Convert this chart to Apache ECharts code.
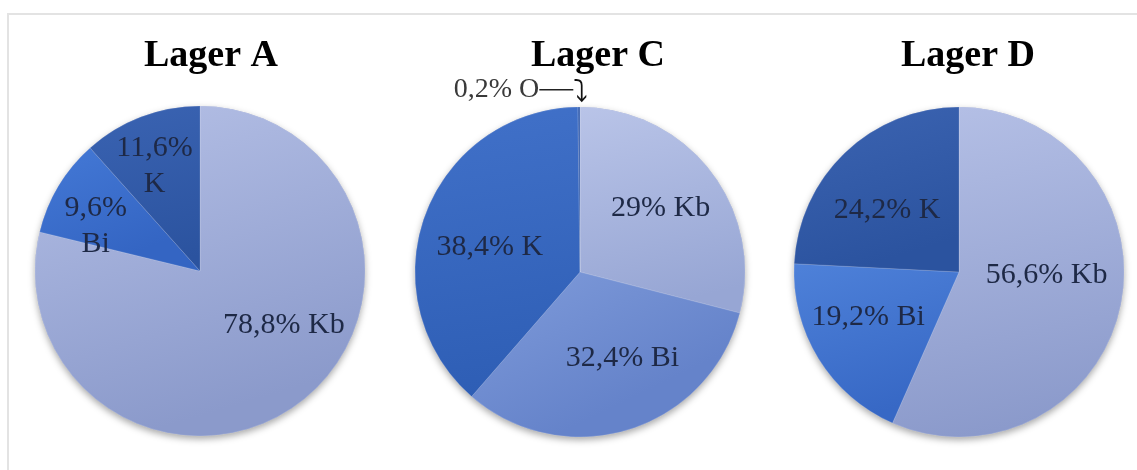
<!DOCTYPE html>
<html>
<head>
<meta charset="utf-8">
<script src="https://cdn.jsdelivr.net/npm/echarts@6/dist/echarts.min.js"></script>
<style>
  html, body { margin: 0; padding: 0; background: #ffffff; overflow: hidden; }
  #frame { position: absolute; left: 7px; top: 13px; width: 1200px; height: 500px;
           border-top: 2px solid #e3e3e3; border-left: 2px solid #e3e3e3; }
  #chart { position: absolute; left: 0; top: 0; width: 1137px; height: 470px; }
</style>
</head>
<body>
<div id="frame"></div>
<div id="chart"></div>
<script>
// ---- data ----
const titles = ['Lager A', 'Lager C', 'Lager D'];
const categoriesA = ['Kb', 'Bi', 'K'];
const valuesA = [78.8, 9.6, 11.6];
const categoriesC = ['Kb', 'Bi', 'K', 'O'];
const valuesC = [29, 32.4, 38.4, 0.2];
const categoriesD = ['Kb', 'Bi', 'K'];
const valuesD = [56.6, 19.2, 24.2];

// ---- layout / style ----
const centers = [[200, 271], [580, 272], [959, 272]];
const titleX = [206, 593, 963];
const radius = 165;
const labelShift = [
  [[31, -13], [-31, -1], [-15, -25]],
  [[13, -11], [17, 4], [-10, 5], [0, 0]],
  [[4, -14], [-18, 0], [-13, 0]]
];
const colors = [
  [['#b5c0e6', '#8b9acb'], ['#4479d6', '#3465c3'], ['#3a63b2', '#2b539f']],
  [['#b9c4e8', '#97a6d4'], ['#7f9bda', '#6583ca'], ['#4171c9', '#2e5eb5'], ['#3a63b2', '#2b539f']],
  [['#b5c0e6', '#8b9acb'], ['#4e81d9', '#3768c5'], ['#3c64b2', '#2b539f']]
];
const serif = "'Liberation Serif', 'DejaVu Serif', serif";

function grad(c) {
  return new echarts.graphic.LinearGradient(0, 0, 0.3, 1, [
    { offset: 0, color: c[0] }, { offset: 1, color: c[1] }
  ]);
}
function fmt(p) {
  const v = String(p.value).replace('.', ',');
  if (p.value < 1) return '{t|' + v + '% ' + p.name + '}{l| }{a|⤵}';
  return p.value < 15 ? v + '%\n' + p.name : v + '% ' + p.name;
}

const chart = echarts.init(document.getElementById('chart'), null, { renderer: 'canvas' });
const sets = [[categoriesA, valuesA], [categoriesC, valuesC], [categoriesD, valuesD]];
const series = [];
sets.forEach(function (s, i) {
  const cats = s[0], vals = s[1];
  const total = vals.reduce(function (a, b) { return a + b; }, 0);
  // backing disc for the soft drop shadow
  series.push({
    type: 'pie', silent: true, animation: false, z: 1,
    center: centers[i], radius: radius,
    label: { show: false }, labelLine: { show: false },
    itemStyle: { color: '#8f9dcc', shadowBlur: 7, shadowOffsetY: 3, shadowColor: 'rgba(0,0,0,0.35)' },
    data: [{ value: total, name: 'all' }]
  });
  series.push({
    type: 'pie', animation: false, z: 2,
    center: centers[i], radius: radius,
    startAngle: 90, clockwise: true,
    avoidLabelOverlap: false,
    emphasis: { disabled: true },
    labelLine: { show: false },
    label: {
      show: true, position: 'inside', formatter: fmt,
      fontFamily: serif, fontSize: 30, lineHeight: 36, color: '#1e2946',
      rich: {
        t: { fontFamily: serif, fontSize: 28, color: '#3a3a3a', verticalAlign: 'middle', lineHeight: 30 },
        l: { width: 34, height: 1.6, lineHeight: 1.6, backgroundColor: '#222222', verticalAlign: 'middle', fontSize: 2 },
        a: { fontFamily: 'DejaVu Sans', fontSize: 30, color: '#111111', verticalAlign: 'top', lineHeight: 30, padding: [4, 0, 0, 0] }
      }
    },
    labelLayout: function (p) {
      const v = vals[p.dataIndex];
      if (v < 1) {
        return { x: p.rect.x + p.rect.width + 8, y: p.rect.y - 2, align: 'right', verticalAlign: 'bottom' };
      }
      const d = labelShift[i][p.dataIndex];
      return { dx: d[0], dy: d[1] };
    },
    itemStyle: { borderWidth: 0.6, borderColor: 'rgba(255,255,255,0.25)' },
    data: vals.map(function (v, k) {
      const item = { value: v, name: cats[k], itemStyle: { color: grad(colors[i][k]) } };
      if (v < 1) item.label = { position: 'outside' };
      return item;
    })
  });
});

chart.setOption({
  animation: false,
  title: titles.map(function (t, i) {
    return {
      text: t, left: titleX[i], top: 32, textAlign: 'center',
      textStyle: { fontFamily: serif, fontWeight: 'bold', fontSize: 38, color: '#000000' }
    };
  }),
  series: series
});
</script>
</body>
</html>
